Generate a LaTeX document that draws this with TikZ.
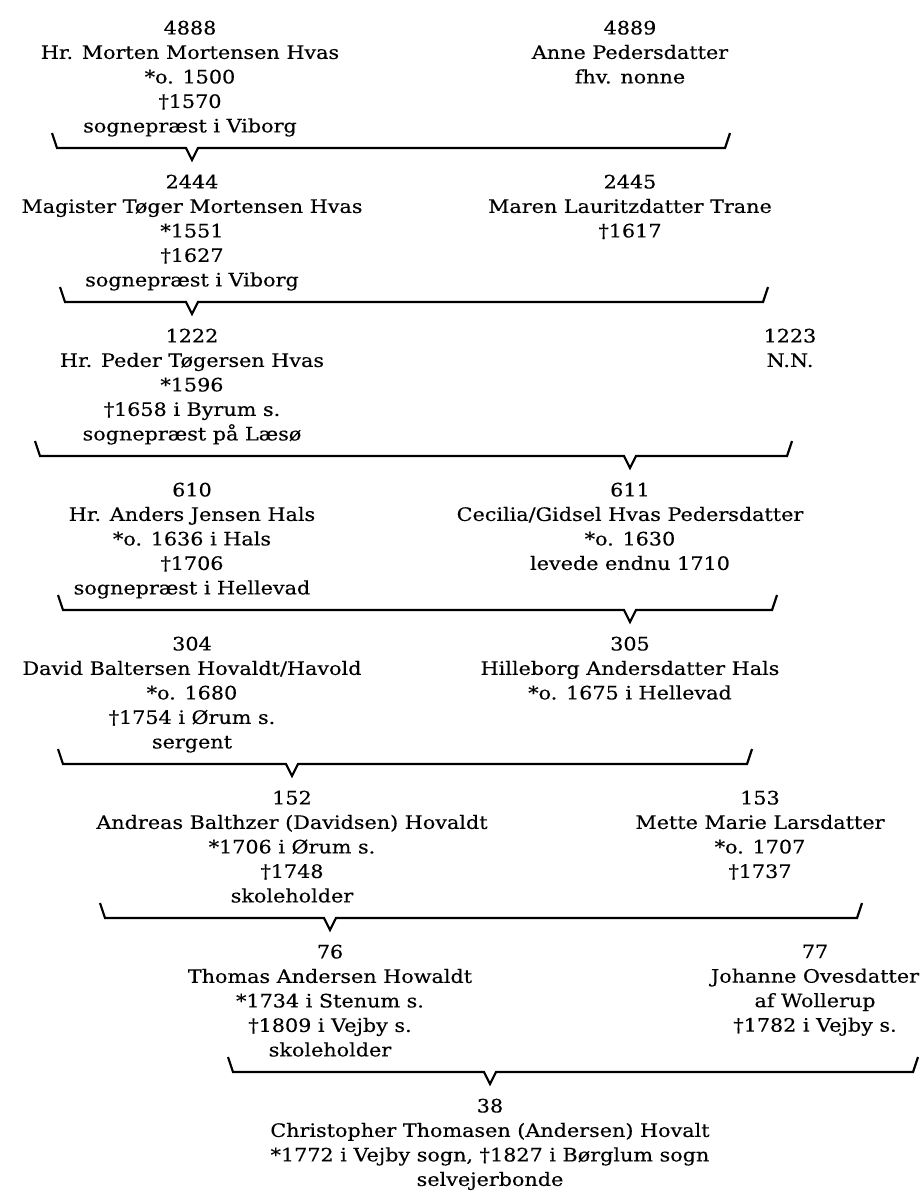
\documentclass[tikz,border=0pt]{standalone}
\usepackage{fontspec}
\setmainfont{DejaVu Serif}[FakeStretch=1.12,FakeBold=0.3]
\usetikzlibrary{calc}

% family bracket: left x, right x, line y, child node
\newcommand{\famline}[4]{%
  \draw[famline] (#1,#3-15) -- (#1+5,#3)
    -- ($(#4.north |- 0,#3)+(-6,0)$) -- ($(#4.north |- 0,#3)+(0,12)$)
    -- ($(#4.north |- 0,#3)+(6,0)$) -- (#2-5,#3) -- (#2,#3-15);}

\begin{document}
\begin{tikzpicture}[x=1pt,y=-1pt,
  person/.style={anchor=north,align=center,inner sep=0pt,
    font=\fontsize{18.5}{24.5}\selectfont},
  famline/.style={line width=2.2pt,line join=miter}]
  \useasboundingbox (0,0) rectangle (922,1192);

  % generation 1
  \node[person] (p4888) at (190,20.5) {4888\\Hr. Morten Mortensen Hvas\\*o. 1500\\†1570\\sognepræst i Viborg};
  \node[person] (p4889) at (630,20.5) {4889\\Anne Pedersdatter\\fhv. nonne};
  % generation 2
  \node[person] (p2444) at (192,174.5) {2444\\Magister Tøger Mortensen Hvas\\*1551\\†1627\\sognepræst i Viborg};
  \node[person] (p2445) at (630,174.5) {2445\\Maren Lauritzdatter Trane\\†1617};
  % generation 3
  \node[person] (p1222) at (192,328.5) {1222\\Hr. Peder Tøgersen Hvas\\*1596\\†1658 i Byrum s.\\sognepræst på Læsø};
  \node[person] (p1223) at (790,328.5) {1223\\N.N.};
  % generation 4
  \node[person] (p610) at (192,482.5) {610\\Hr. Anders Jensen Hals\\*o. 1636 i Hals\\†1706\\sognepræst i Hellevad};
  \node[person] (p611) at (630,482.5) {611\\Cecilia/Gidsel Hvas Pedersdatter\\*o. 1630\\levede endnu 1710};
  % generation 5
  \node[person] (p304) at (192,636.5) {304\\David Baltersen Hovaldt/Havold\\*o. 1680\\†1754 i Ørum s.\\sergent};
  \node[person] (p305) at (630,636.5) {305\\Hilleborg Andersdatter Hals\\*o. 1675 i Hellevad};
  % generation 6
  \node[person] (p152) at (292,790.5) {152\\Andreas Balthzer (Davidsen) Hovaldt\\*1706 i Ørum s.\\†1748\\skoleholder};
  \node[person] (p153) at (760,790.5) {153\\Mette Marie Larsdatter\\*o. 1707\\†1737};
  % generation 7
  \node[person] (p76) at (330,944.5) {76\\Thomas Andersen Howaldt\\*1734 i Stenum s.\\†1809 i Vejby s.\\skoleholder};
  \node[person] (p77) at (815,944.5) {77\\Johanne Ovesdatter\\af Wollerup\\†1782 i Vejby s.};
  % generation 8
  \node[person] (p38) at (490,1098.5) {38\\Christopher Thomasen (Andersen) Hovalt\\*1772 i Vejby sogn, †1827 i Børglum sogn\\selvejerbonde};

  \famline{52}{730}{148}{p2444}
  \famline{60}{768}{302}{p1222}
  \famline{35}{792}{456}{p611}
  \famline{58}{777}{610}{p305}
  \famline{58}{752}{764}{p152}
  \famline{100}{862}{918}{p76}
  \famline{228}{918}{1072}{p38}
\end{tikzpicture}
\end{document}
